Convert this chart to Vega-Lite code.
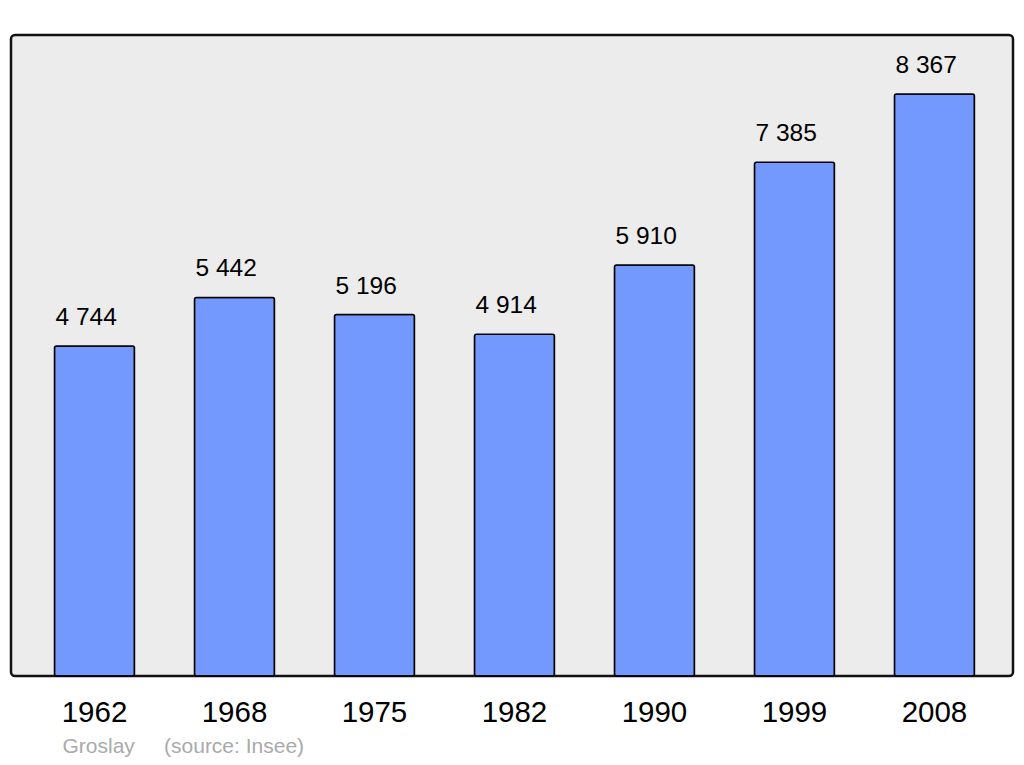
{
  "$schema": "https://vega.github.io/schema/vega-lite/v6.json",
  "width": 1002,
  "height": 641,
  "autosize": {"type": "none"},
  "padding": {"left": 11, "top": 35, "right": 11, "bottom": 89},
  "background": "white",
  "config": {
    "font": "Liberation Sans",
    "view": {"fill": "#ececec", "stroke": "#111111", "strokeWidth": 2.5, "cornerRadius": 4}
  },
  "data": {
    "values": [
      {"year": "1962", "pop": 4744, "label": "4 744"},
      {"year": "1968", "pop": 5442, "label": "5 442"},
      {"year": "1975", "pop": 5196, "label": "5 196"},
      {"year": "1982", "pop": 4914, "label": "4 914"},
      {"year": "1990", "pop": 5910, "label": "5 910"},
      {"year": "1999", "pop": 7385, "label": "7 385"},
      {"year": "2008", "pop": 8367, "label": "8 367"}
    ]
  },
  "encoding": {
    "x": {
      "field": "year",
      "type": "nominal",
      "sort": null,
      "scale": {"paddingInner": 0.4286, "paddingOuter": 0.293, "align": 0.53},
      "axis": {
        "domain": false,
        "ticks": false,
        "grid": false,
        "labelAngle": 0,
        "labelFontSize": 29.5,
        "labelColor": "#000000",
        "labelBaseline": "alphabetic",
        "labelPadding": 45,
        "title": "Groslay\u00a0\u00a0\u00a0\u00a0\u00a0(source: Insee)",
        "titleFontSize": 21,
        "titleFontWeight": "normal",
        "titleColor": "#aaaaaa",
        "titleAlign": "left",
        "titleAnchor": "start",
        "titleBaseline": "alphabetic",
        "titleX": 51,
        "titleY": 76
      }
    },
    "y": {
      "field": "pop",
      "type": "quantitative",
      "scale": {"domain": [0, 9215], "nice": false, "zero": true},
      "axis": null
    }
  },
  "layer": [
    {
      "mark": {"type": "bar", "fill": "#7399ff", "stroke": "#000000", "strokeWidth": 1.5, "cornerRadius": 2}
    },
    {
      "mark": {"type": "text", "align": "left", "baseline": "alphabetic", "dx": 1, "dy": -21, "fontSize": 24.5, "color": "#000000"},
      "encoding": {
        "x": {"field": "year", "type": "nominal", "sort": null, "bandPosition": 0},
        "text": {"field": "label"}
      }
    }
  ]
}
